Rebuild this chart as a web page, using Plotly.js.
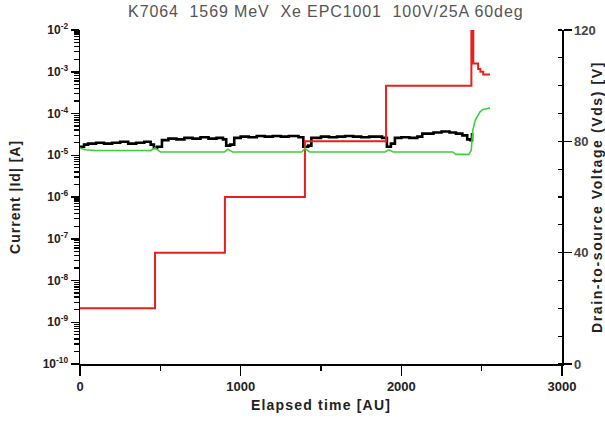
<!DOCTYPE html>
<html>
<head>
<meta charset="utf-8">
<script src="https://cdn.plot.ly/plotly-3.0.1.min.js"></script>
<style>
  html, body { margin: 0; padding: 0; background: #fff; }
  #chart { width: 605px; height: 423px; }
  /* looser tracking on the titles */
  #chart .gtitle { letter-spacing: 0.9px; }
  #chart .xtitle { letter-spacing: 1.2px; }
  #chart .annotation-text { letter-spacing: 1px; }
  #chart .y2title { letter-spacing: 1.6px; }
</style>
</head>
<body>
<div id="chart"></div>
<script>
// Drain-source voltage steps (right axis, volts)
var vdsTime = [0, 467, 902, 1400, 1905, 2436, 2448, 2466, 2478, 2492, 2510, 2552];
var vdsVolt = [20, 40, 60, 80, 100, 135, 108, 108, 106, 105, 104, 104];

// Drain current |Id| (left axis, amperes)
var idTime = [0, 25, 50, 100, 150, 200, 250, 300, 350, 400, 440, 460, 480, 510, 550, 600, 650, 700, 750, 800,
  850, 890, 910, 935, 960, 1000, 1050, 1100, 1150, 1200, 1250, 1300, 1360, 1390, 1420, 1440, 1500, 1550, 1600,
  1650, 1700, 1750, 1800, 1880, 1910, 1935, 1960, 2000, 2050, 2100, 2130, 2200, 2250, 2300, 2340, 2380, 2410,
  2430, 2440];
var idAmp = [1.6e-5, 1.8e-5, 1.9e-5, 2.0e-5, 1.9e-5, 2.0e-5, 2.1e-5, 1.9e-5, 2.0e-5, 2.1e-5, 1.8e-5, 1.5e-5,
  1.6e-5, 2.3e-5, 2.5e-5, 2.4e-5, 2.6e-5, 2.5e-5, 2.7e-5, 2.5e-5, 2.6e-5, 2.4e-5, 1.7e-5, 1.8e-5, 2.6e-5,
  2.8e-5, 2.7e-5, 2.9e-5, 2.8e-5, 2.9e-5, 2.8e-5, 2.9e-5, 2.7e-5, 1.6e-5, 1.7e-5, 2.6e-5, 2.8e-5, 2.7e-5,
  2.8e-5, 2.9e-5, 2.8e-5, 2.7e-5, 2.8e-5, 2.6e-5, 1.6e-5, 1.9e-5, 2.6e-5, 2.7e-5, 2.6e-5, 2.8e-5, 3.3e-5,
  3.5e-5, 3.7e-5, 3.5e-5, 3.3e-5, 3.0e-5, 2.4e-5, 2.3e-5, 3.4e-5];

// Gate current (left axis, amperes)
var igTime = [0, 30, 100, 440, 467, 500, 900, 920, 950, 1380, 1400, 1430, 1900, 1920, 1950, 2320, 2340, 2420,
  2435, 2445, 2460, 2471, 2490, 2508, 2530, 2552];
var igAmp = [1.5e-5, 1.35e-5, 1.3e-5, 1.3e-5, 1.5e-5, 1.2e-5, 1.2e-5, 1.4e-5, 1.2e-5, 1.2e-5, 1.45e-5, 1.2e-5,
  1.2e-5, 1.35e-5, 1.2e-5, 1.2e-5, 1.05e-5, 1.05e-5, 1.3e-5, 4.0e-5, 7.0e-5, 8.5e-5, 1.1e-4, 1.25e-4,
  1.3e-4, 1.35e-4];

// Current axis decades and their labels
var currentTicks = [1e-10, 1e-9, 1e-8, 1e-7, 1e-6, 1e-5, 1e-4, 1e-3, 1e-2];
var currentTickText = ['10<sup>-10</sup>', '10<sup>-9</sup>', '10<sup>-8</sup>', '10<sup>-7</sup>',
  '10<sup>-6</sup>', '10<sup>-5</sup>', '10<sup>-4</sup>', '10<sup>-3</sup>', '10<sup>-2</sup>'];

var titleText = 'K7064  1569 MeV  Xe EPC1001  100V/25A 60deg';
var xTitle = 'Elapsed time [AU]';
var yTitle = 'Current |Id| [A]';
var y2Title = 'Drain-to-source Voltage (Vds) [V]';

var FONT = 'Liberation Sans, Arial, sans-serif';

// minor ticks for the log axis: 2..9 within each decade
var logMinor = [];
for (var e = -10; e < -2; e++) {
  for (var m = 2; m <= 9; m++) logMinor.push(m * Math.pow(10, e));
}

var traces = [
  {
    x: vdsTime, y: vdsVolt, yaxis: 'y2', type: 'scatter', mode: 'lines',
    line: { color: '#e8201c', width: 2, shape: 'hv' }, hoverinfo: 'skip'
  },
  {
    // gate current sits on the twin log axis (same range as the current axis)
    x: igTime, y: igAmp, yaxis: 'y3', type: 'scatter', mode: 'lines',
    line: { color: '#3ccf3c', width: 1.6 }, hoverinfo: 'skip'
  },
  {
    x: idTime, y: idAmp, type: 'scatter', mode: 'lines',
    line: { color: '#000000', width: 2.6, shape: 'hv' }, hoverinfo: 'skip'
  }
];

var layout = {
  width: 605, height: 423,
  margin: { l: 80, r: 43, t: 30, b: 59 },
  paper_bgcolor: '#ffffff', plot_bgcolor: '#ffffff',
  showlegend: false,
  font: { family: FONT, color: '#222' },
  title: {
    text: titleText,
    font: { family: FONT, size: 16, color: '#555' },
    xref: 'paper', x: 0.51, xanchor: 'center',
    yref: 'container', y: 0.972, yanchor: 'middle'
  },
  xaxis: {
    range: [0, 3000], dtick: 1000, tick0: 0,
    showgrid: false, zeroline: false,
    showline: true, linecolor: '#000', linewidth: 1.5,
    ticks: 'outside', ticklen: 10, tickwidth: 1.5, tickcolor: '#000',
    minor: { ticks: 'outside', ticklen: 5, tickwidth: 1.5, tickcolor: '#000', dtick: 500, showgrid: false },
    tickfont: { family: FONT, size: 13, weight: 'bold', color: '#222' },
    title: { text: xTitle, font: { family: FONT, size: 14, weight: 'bold', color: '#222' }, standoff: 7 }
  },
  yaxis: {
    type: 'log', range: [-10, -2],
    tickmode: 'array', tickvals: currentTicks, ticktext: currentTickText,
    showgrid: false, zeroline: false,
    showline: true, linecolor: '#000', linewidth: 1.5,
    ticks: 'outside', ticklen: 8, tickwidth: 1.5, tickcolor: '#000',
    tickfont: { family: FONT, size: 12, weight: 'bold', color: '#222' }
  },
  // twin of the current axis that carries the in-decade minor ticks
  yaxis3: {
    type: 'log', range: [-10, -2], overlaying: 'y', side: 'left', anchor: 'x',
    tickmode: 'array', tickvals: logMinor, showticklabels: false,
    showgrid: false, zeroline: false, showline: false,
    ticks: 'outside', ticklen: 5, tickwidth: 1.3, tickcolor: '#000'
  },
  yaxis2: {
    overlaying: 'y', side: 'right',
    range: [0, 120], dtick: 40, tick0: 0,
    showgrid: false, zeroline: false,
    showline: true, linecolor: '#000', linewidth: 1.5,
    ticks: 'outside', ticklen: 8, tickwidth: 1.5, tickcolor: '#000',
    minor: { ticks: 'inside', ticklen: 4, tickwidth: 1.3, tickcolor: '#000', dtick: 10, showgrid: false },
    tickfont: { family: FONT, size: 13, weight: 'bold', color: '#444' },
    title: { text: y2Title, font: { family: FONT, size: 14, weight: 'bold', color: '#222' }, standoff: 2 }
  },
  annotations: [
    {
      // title of the current axis
      text: yTitle, textangle: -90, showarrow: false,
      xref: 'paper', x: -0.135, xanchor: 'center',
      yref: 'paper', y: 0.5, yanchor: 'middle',
      font: { family: FONT, size: 14, weight: 'bold', color: '#222' }
    }
  ]
};

Plotly.newPlot('chart', traces, layout, { staticPlot: true, displayModeBar: false });
</script>
</body>
</html>
